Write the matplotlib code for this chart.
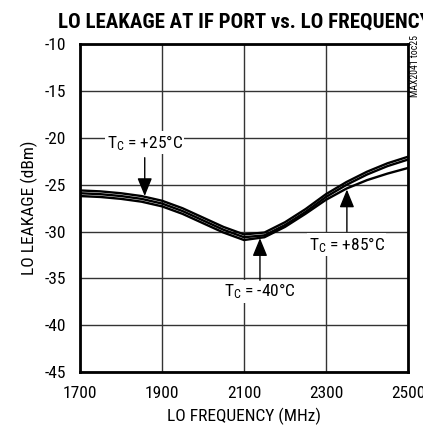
import matplotlib
matplotlib.use("Agg")
import matplotlib.pyplot as plt

# condensed sans to stand in for the datasheet's Helvetica Condensed
plt.rcParams["font.family"] = ["Roboto Condensed", "DejaVu Sans"]
plt.rcParams["axes.unicode_minus"] = False
plt.rcParams["mathtext.fontset"] = "custom"
plt.rcParams["mathtext.rm"] = "Roboto Condensed"
plt.rcParams["mathtext.it"] = "Roboto Condensed"

freq = [1700, 1750, 1800, 1850, 1900, 1950, 2000, 2050, 2100,
        2150, 2200, 2250, 2300, 2350, 2400, 2450, 2500]
leak_m40 = [-25.6, -25.7, -25.9, -26.2, -26.7, -27.5, -28.5, -29.5, -30.3,
            -30.1, -29.0, -27.6, -26.0, -24.7, -23.6, -22.7, -22.0]
leak_p25 = [-25.9, -26.0, -26.2, -26.5, -27.0, -27.8, -28.8, -29.8, -30.6,
            -30.4, -29.3, -27.9, -26.3, -25.0, -23.9, -23.0, -22.3]
leak_p85 = [-26.2, -26.3, -26.5, -26.8, -27.3, -28.1, -29.1, -30.1, -30.9,
            -30.6, -29.5, -28.1, -26.6, -25.4, -24.5, -23.8, -23.2]

xticks = [1700, 1900, 2100, 2300, 2500]
yticks = [-10, -15, -20, -25, -30, -35, -40, -45]

fig = plt.figure(figsize=(4.23, 4.34), dpi=100)
ax = fig.add_axes([0.189, 0.143, 0.7755, 0.7545])

for ys in (leak_m40, leak_p25, leak_p85):
    ax.plot(freq, ys, color="black", lw=1.7, zorder=3)

ax.set_xlim(1700, 2500)
ax.set_ylim(-45, -10)
ax.set_xticks(xticks)
ax.set_yticks(yticks)
ax.tick_params(length=0, labelsize=12.5)
ax.tick_params(axis="y", pad=10)
ax.tick_params(axis="x", pad=10)
ax.grid(True, color="#333333", lw=1.0)
for s in ax.spines.values():
    s.set_linewidth(2.0)

ax.set_xlabel("LO FREQUENCY (MHz)", fontsize=12.5, labelpad=5)
ax.set_ylabel("LO LEAKAGE (dBm)", fontsize=12.5, labelpad=5)

box = dict(facecolor="white", edgecolor="none", pad=1.0)
labels = [
    (r"T$_\mathrm{C}$ = +25°C", 1858, -20.5, -22.1, -26.2),
    (r"T$_\mathrm{C}$ = -40°C", 2139, -36.4, -35.2, -30.7),
    (r"T$_\mathrm{C}$ = +85°C", 2351, -31.4, -30.0, -25.5),
]
for txt, fx, ty, a0, a1 in labels:
    ax.text(fx, ty, txt, ha="center", va="center", fontsize=12.5, bbox=box, zorder=4)
    ax.annotate("", xy=(fx, a1), xytext=(fx, a0),
                arrowprops=dict(arrowstyle="-|>,head_width=0.45,head_length=1.1",
                                color="black", lw=1.0, shrinkA=0, shrinkB=0), zorder=4)

fig.text(58 / 423, 1 - 22 / 434, "LO LEAKAGE AT IF PORT vs. LO FREQUENCY",
         ha="left", va="center", fontsize=15, fontweight="bold")
fig.text(415 / 423, 1 - 66 / 434, "MAX2041 toc25", rotation=90,
         ha="center", va="center", fontsize=7)

fig.savefig("out.png", dpi=100)
